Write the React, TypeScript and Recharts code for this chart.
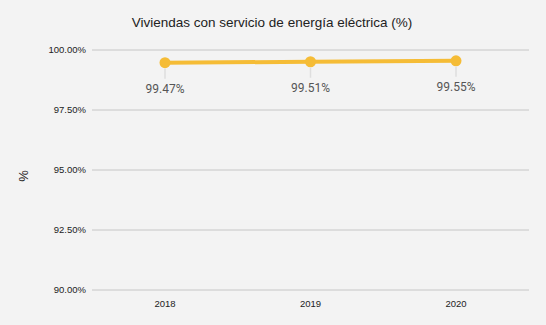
import React from 'react';
import { LineChart, Line, XAxis, YAxis, CartesianGrid, LabelList } from 'recharts';

const years = ['2018', '2019', '2020'];
const coverage = [99.47, 99.51, 99.55];
const yTicks = [90, 92.5, 95, 97.5, 100];

const data = years.map((y, i) => ({ year: y, value: coverage[i] }));

const LINE_COLOR = '#F5BC36';

const PointLabel = (props: any) => {
  const { x, y, value } = props;
  return (
    <g>
      <line x1={x} x2={x} y1={y + 6} y2={y + 16} stroke="#dedede" strokeWidth={1.5} />
      <text
        x={x}
        y={y + 26}
        textAnchor="middle"
        dominantBaseline="central"
        fill="#555555"
        fontFamily="Roboto, 'Liberation Sans', sans-serif"
        fontSize={12}
      >
        {value.toFixed(2) + '%'}
      </text>
    </g>
  );
};

const AxisTitle = (props: any) => {
  const vb = props.viewBox || {};
  const cx = (vb.x || 0) + 23;
  const cy = (vb.y || 0) + (vb.height || 0) / 2 + 6;
  return (
    <text
      x={cx}
      y={cy}
      transform={`rotate(-90 ${cx} ${cy})`}
      textAnchor="middle"
      dominantBaseline="central"
      fill="#222"
      fontFamily="'Liberation Sans', Arial, sans-serif"
      fontSize={13}
    >
      %
    </text>
  );
};

export default function App() {
  return (
    <div style={{ position: 'absolute', left: 0, top: 0, width: 546, height: 325, background: '#f3f3f3' }}>
      <div
        style={{
          position: 'absolute',
          left: 0,
          top: 14,
          width: 544,
          textAlign: 'center',
          fontFamily: "'Liberation Sans', Arial, sans-serif",
          fontSize: 13.5,
          color: '#222',
          lineHeight: '18px',
        }}
      >
        Viviendas con servicio de energía eléctrica (%)
      </div>
      <LineChart
        width={546}
        height={325}
        data={data}
        margin={{ top: 50, right: 17, bottom: 0, left: 0 }}
        style={{ position: 'absolute', left: 0, top: 0 }}
      >
        <CartesianGrid vertical={false} stroke="#c6c6c6" strokeWidth={1} />
        <XAxis
          dataKey="year"
          axisLine={false}
          tickLine={false}
          padding={{ left: 73, right: 73 }}
          tick={{ fill: '#222', fontSize: 9.5, fontFamily: "'Liberation Sans', Arial, sans-serif" }}
          tickMargin={4}
          height={35}
        />
        <YAxis
          width={92}
          domain={[90, 100]}
          ticks={yTicks}
          interval={0}
          axisLine={false}
          tickLine={false}
          tickMargin={0}
          tickFormatter={(v: number) => v.toFixed(2) + '%'}
          tick={{ fill: '#222', fontSize: 9.5, fontFamily: "'Liberation Sans', Arial, sans-serif" }}
          label={{ content: (p: any) => <AxisTitle {...p} /> } as any}
        />
        <Line
          type="linear"
          dataKey="value"
          stroke={LINE_COLOR}
          strokeWidth={4}
          dot={{ r: 5.5, fill: LINE_COLOR, stroke: LINE_COLOR, strokeWidth: 0 }}
          activeDot={false}
          isAnimationActive={false}
        >
          <LabelList dataKey="value" content={(p: any) => <PointLabel {...p} />} />
        </Line>
      </LineChart>
    </div>
  );
}
